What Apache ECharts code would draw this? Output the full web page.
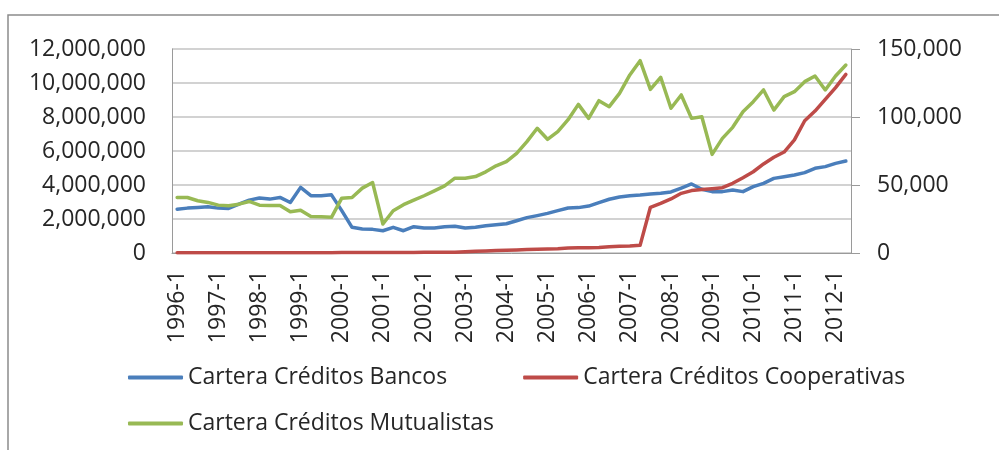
<!DOCTYPE html>
<html>
<head>
<meta charset="utf-8">
<script src="https://cdn.jsdelivr.net/npm/echarts@6/dist/echarts.min.js"></script>
<style>
  html, body { margin: 0; padding: 0; background: #ffffff; }
  #chart { width: 999px; height: 450px; }
</style>
</head>
<body>
<div id="chart"></div>
<script>
// Quarterly categories 1996-1 .. 2012-2
const years = [1996,1997,1998,1999,2000,2001,2002,2003,2004,2005,2006,2007,2008,2009,2010,2011,2012];
const categories = [];
years.forEach(function (y) {
  [1,2,3,4].forEach(function (q) {
    if (y === 2012 && q > 2) return;
    categories.push(y + '-' + q);
  });
});

const leftTicks = [0, 2000000, 4000000, 6000000, 8000000, 10000000, 12000000];
const rightTicks = [0, 50000, 100000, 150000];

// Left axis
const bancos = [
  2580000, 2640000, 2680000, 2720000, 2640000, 2620000, 2880000, 3110000,
  3230000, 3170000, 3270000, 2970000, 3860000, 3370000, 3370000, 3420000,
  2490000, 1510000, 1410000, 1390000, 1310000, 1510000, 1310000, 1550000,
  1470000, 1470000, 1550000, 1570000, 1470000, 1510000, 1600000, 1660000,
  1720000, 1900000, 2080000, 2200000, 2330000, 2490000, 2650000, 2670000,
  2760000, 2960000, 3160000, 3290000, 3370000, 3410000, 3470000, 3510000,
  3590000, 3820000, 4060000, 3750000, 3610000, 3610000, 3710000, 3610000,
  3900000, 4100000, 4390000, 4490000, 4590000, 4730000, 4980000, 5080000,
  5270000, 5410000
];

const cooperativas = [
  20000, 20000, 20000, 20000, 20000, 20000, 20000, 20000,
  20000, 20000, 20000, 20000, 20000, 20000, 20000, 20000,
  30000, 30000, 30000, 30000, 30000, 30000, 30000, 30000,
  40000, 40000, 50000, 50000, 80000, 100000, 120000, 140000,
  160000, 180000, 200000, 220000, 240000, 250000, 290000, 310000,
  310000, 330000, 370000, 390000, 410000, 450000, 2690000, 2920000,
  3180000, 3510000, 3670000, 3730000, 3780000, 3840000, 4100000, 4430000,
  4780000, 5240000, 5630000, 5940000, 6650000, 7780000, 8350000, 9040000,
  9730000, 10510000
];

// Right axis
const mutualistas = [
  40800, 40800, 38400, 37200, 35200, 34700, 35900, 37900,
  35200, 35000, 35000, 30300, 31500, 26900, 26700, 26200,
  40300, 40800, 47700, 51800, 21300, 31100, 35500, 38900,
  42100, 45700, 49400, 55000, 55000, 56200, 59700, 64100,
  67200, 73300, 81900, 91700, 83600, 89200, 98000, 109300,
  99000, 112000, 107600, 117400, 130900, 141400, 120300, 129200,
  106400, 116200, 99000, 100200, 72500, 84300, 92400, 103900,
  111300, 119900, 105100, 115000, 118600, 126000, 130100, 119900,
  130100, 138200
];

const seriesNames = ['Cartera Créditos Bancos', 'Cartera Créditos Cooperativas', 'Cartera Créditos Mutualistas'];
const seriesColors = ['#4a7ebb', '#be4b48', '#98b954'];

const FONT = 'Open Sans';
const TXT = '#262626';
function commas(v) { return String(v).replace(/\B(?=(\d{3})+(?!\d))/g, ','); }

const chart = echarts.init(document.getElementById('chart'), null, { renderer: 'canvas' });

const legendText = { fontFamily: FONT, fontSize: 23, color: TXT };

chart.setOption({
  backgroundColor: '#ffffff',
  animation: false,
  graphic: [{
    type: 'rect',
    shape: { x: 8, y: 15, width: 1200, height: 600 },
    style: { fill: 'none', stroke: '#8c8c8c', lineWidth: 1.5 },
    z: -1
  }],
  grid: { left: 172, right: 148, top: 49, bottom: 197, containLabel: false },
  legend: [
    {
      data: [seriesNames[0], seriesNames[1]],
      left: 128, top: 366, orient: 'horizontal',
      itemWidth: 55, itemHeight: 4, itemGap: 76, padding: 0,
      icon: 'roundRect',
      textStyle: legendText
    },
    {
      data: [seriesNames[2]],
      left: 128, top: 412, orient: 'horizontal',
      itemWidth: 55, itemHeight: 4, padding: 0,
      icon: 'roundRect',
      textStyle: legendText
    }
  ],
  xAxis: {
    type: 'category',
    data: categories,
    boundaryGap: true,
    axisLine: { show: true, lineStyle: { color: '#9a9a9a', width: 1 } },
    axisTick: { show: false },
    axisLabel: {
      interval: 3, rotate: 90, margin: 17,
      fontFamily: FONT, fontSize: 23, color: TXT
    },
    splitLine: { show: false }
  },
  yAxis: [
    {
      type: 'value', min: leftTicks[0], max: leftTicks[leftTicks.length - 1], interval: 2000000,
      position: 'left',
      axisLine: { show: true, lineStyle: { color: '#9a9a9a', width: 1 } },
      axisTick: { show: false },
      axisLabel: { margin: 26, fontFamily: FONT, fontSize: 23, color: TXT, formatter: commas },
      splitLine: { show: true, lineStyle: { color: '#d2d2d2', width: 2 } }
    },
    {
      type: 'value', min: rightTicks[0], max: rightTicks[rightTicks.length - 1], interval: 50000,
      position: 'right',
      axisLine: { show: true, lineStyle: { color: '#9a9a9a', width: 1 } },
      axisTick: { show: true, inside: false, length: 9, lineStyle: { color: '#9a9a9a', width: 1 } },
      axisLabel: { margin: 26, fontFamily: FONT, fontSize: 23, color: TXT, formatter: commas },
      splitLine: { show: false }
    }
  ],
  series: [
    {
      name: seriesNames[0], type: 'line', yAxisIndex: 0, data: bancos,
      showSymbol: false, symbol: 'none', smooth: false,
      itemStyle: { color: seriesColors[0] },
      lineStyle: { color: seriesColors[0], width: 3.5, join: 'round', cap: 'round' }
    },
    {
      name: seriesNames[1], type: 'line', yAxisIndex: 0, data: cooperativas,
      showSymbol: false, symbol: 'none', smooth: false,
      itemStyle: { color: seriesColors[1] },
      lineStyle: { color: seriesColors[1], width: 3.5, join: 'round', cap: 'round' }
    },
    {
      name: seriesNames[2], type: 'line', yAxisIndex: 1, data: mutualistas,
      showSymbol: false, symbol: 'none', smooth: false,
      itemStyle: { color: seriesColors[2] },
      lineStyle: { color: seriesColors[2], width: 3.5, join: 'round', cap: 'round' }
    }
  ]
});
</script>
</body>
</html>
